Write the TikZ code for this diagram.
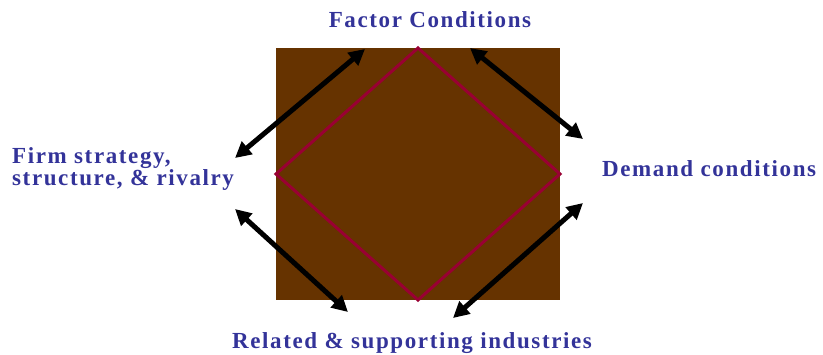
\documentclass[tikz,border=0pt]{standalone}
\usepackage{fontspec}
\setmainfont{Liberation Serif}[LetterSpace=7]
\usetikzlibrary{arrows.meta}
\definecolor{boxbrown}{HTML}{663300}
\definecolor{diamondred}{HTML}{990033}
\definecolor{labelblue}{HTML}{333399}
\tikzset{
  lbl/.style={font=\fontsize{23}{22}\selectfont\bfseries, text=labelblue, inner sep=0pt},
  dblarrow/.style={line width=5pt, black, {Triangle[length=16pt,width=16pt]}-{Triangle[length=16pt,width=16pt]}}
}
\begin{document}
\begin{tikzpicture}[x=1pt,y=-1pt]
\useasboundingbox (0,0) rectangle (823,354);
\fill[boxbrown] (276,48) rectangle (560,300);
\coordinate (T) at (418,48);
\coordinate (R) at (560,174);
\coordinate (B) at (418,300);
\coordinate (L) at (276,174);
\draw[diamondred, line width=3pt, line join=miter] (T) -- (R) -- (B) -- (L) -- cycle;
\node[lbl, anchor=base] (factor) at (430,27) {Factor Conditions};
\node[lbl, anchor=base west] (demand) at (602,176) {Demand conditions};
\node[lbl, anchor=base west, align=left] (firm) at (12,185) {Firm strategy,\\structure, \& rivalry};
\node[lbl, anchor=base west] (related) at (232,348) {Related \& supporting industries};
\coordinate (a1) at (235,158);
\coordinate (a2) at (365,49);
\coordinate (b1) at (470,48);
\coordinate (b2) at (583,139);
\coordinate (c1) at (235,209);
\coordinate (c2) at (348,312);
\coordinate (d1) at (583,203);
\coordinate (d2) at (453,318);
\draw[dblarrow] (a1) -- (a2);
\draw[dblarrow] (b1) -- (b2);
\draw[dblarrow] (c1) -- (c2);
\draw[dblarrow] (d1) -- (d2);
\end{tikzpicture}
\end{document}
